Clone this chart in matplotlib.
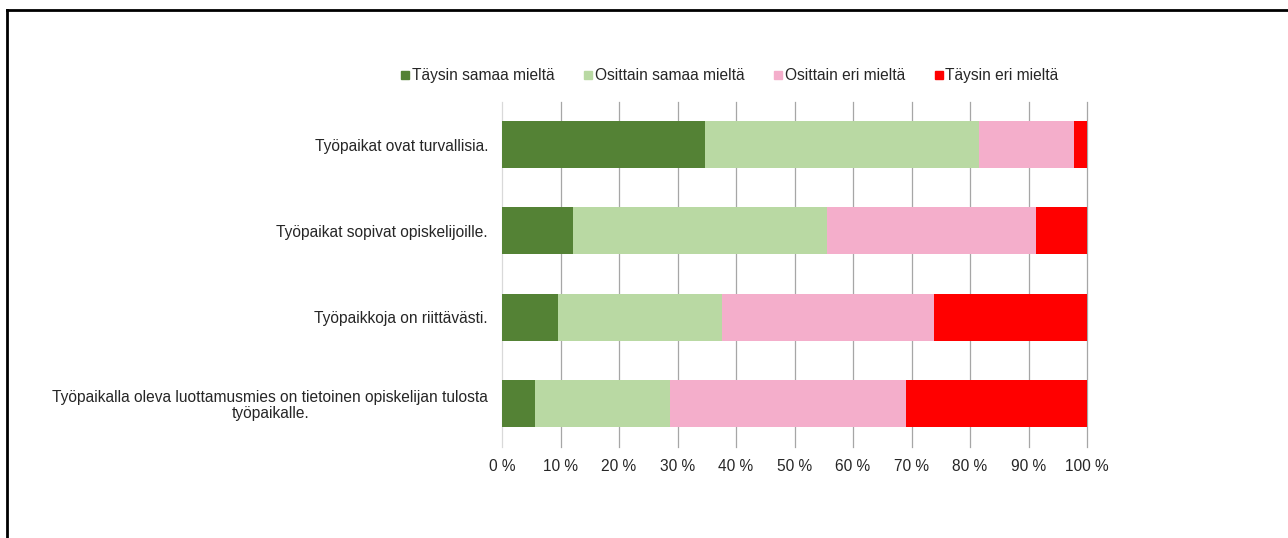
import numpy as np
import matplotlib.pyplot as plt
from matplotlib.ticker import FuncFormatter
from matplotlib.lines import Line2D

plt.rcParams['font.family'] = ['Liberation Sans', 'DejaVu Sans']

questions = [
    'Työpaikat ovat turvallisia.',
    'Työpaikat sopivat opiskelijoille.',
    'Työpaikkoja on riittävästi.',
    'Työpaikalla oleva luottamusmies on tietoinen opiskelijan tulosta\ntyöpaikalle.',
]
series_names = ['Täysin samaa mieltä', 'Osittain samaa mieltä',
                'Osittain eri mieltä', 'Täysin eri mieltä']
taysin_samaa = [34.7, 12.1, 9.6, 5.7]
osittain_samaa = [46.8, 43.5, 28.0, 23.1]
osittain_eri = [16.3, 35.6, 36.3, 40.2]
taysin_eri = [2.2, 8.8, 26.1, 31.0]
x_ticks = np.arange(0, 101, 10)
colors = ['#548235', '#B9D9A3', '#F4AECB', '#FF0000']

fig = plt.figure(figsize=(12.88, 5.38), dpi=100)
ax = fig.add_axes([502 / 1288, 1 - 446.6 / 538, 585 / 1288, 345.1 / 538])

y = np.arange(len(questions))
left = np.zeros(len(questions))
for name, vals, col in zip(series_names,
                           [taysin_samaa, osittain_samaa, osittain_eri, taysin_eri],
                           colors):
    ax.barh(y, vals, left=left, height=0.545, color=col, label=name, zorder=3)
    left += np.array(vals)

ax.set_xlim(0, 100)
ax.set_ylim(len(questions) - 0.5, -0.5)
ax.set_yticks(y)
ax.set_yticklabels(questions, fontsize=11.2, color='#262626',
                   multialignment='center', linespacing=1.1)
ax.set_xticks(x_ticks)
ax.xaxis.set_major_formatter(FuncFormatter(lambda v, p: '%d %%' % v))
ax.tick_params(axis='x', length=0, pad=9, labelsize=11.2, labelcolor='#262626')
ax.tick_params(axis='y', length=0, pad=10)
ax.grid(True, axis='x', color='#A6A6A6', linewidth=0.9, zorder=0)
for gl in ax.get_xgridlines():
    gl.set_clip_on(False)
ax.get_xgridlines()[0].set_color('#D9D9D9')
for s in ax.spines.values():
    s.set_visible(False)

handles = [Line2D([], [], marker='s', linestyle='none', markersize=6,
                  markerfacecolor=c, markeredgecolor=c) for c in colors]
fig.legend(handles, series_names, loc='center', ncol=4,
           bbox_to_anchor=(730 / 1288, 1 - 75.5 / 538), frameon=False,
           fontsize=11.2, handlelength=0.5, handletextpad=0.15,
           columnspacing=1.95, labelcolor='#262626')

# outer frame, only the top and left edges fall inside the image
fig.add_artist(Line2D([7 / 1288, 7 / 1288], [0, 1 - 10 / 538],
                      transform=fig.transFigure, color='black', linewidth=2))
fig.add_artist(Line2D([7 / 1288, 1], [1 - 10 / 538, 1 - 10 / 538],
                      transform=fig.transFigure, color='black', linewidth=2))

fig.savefig('out.png', dpi=100)
